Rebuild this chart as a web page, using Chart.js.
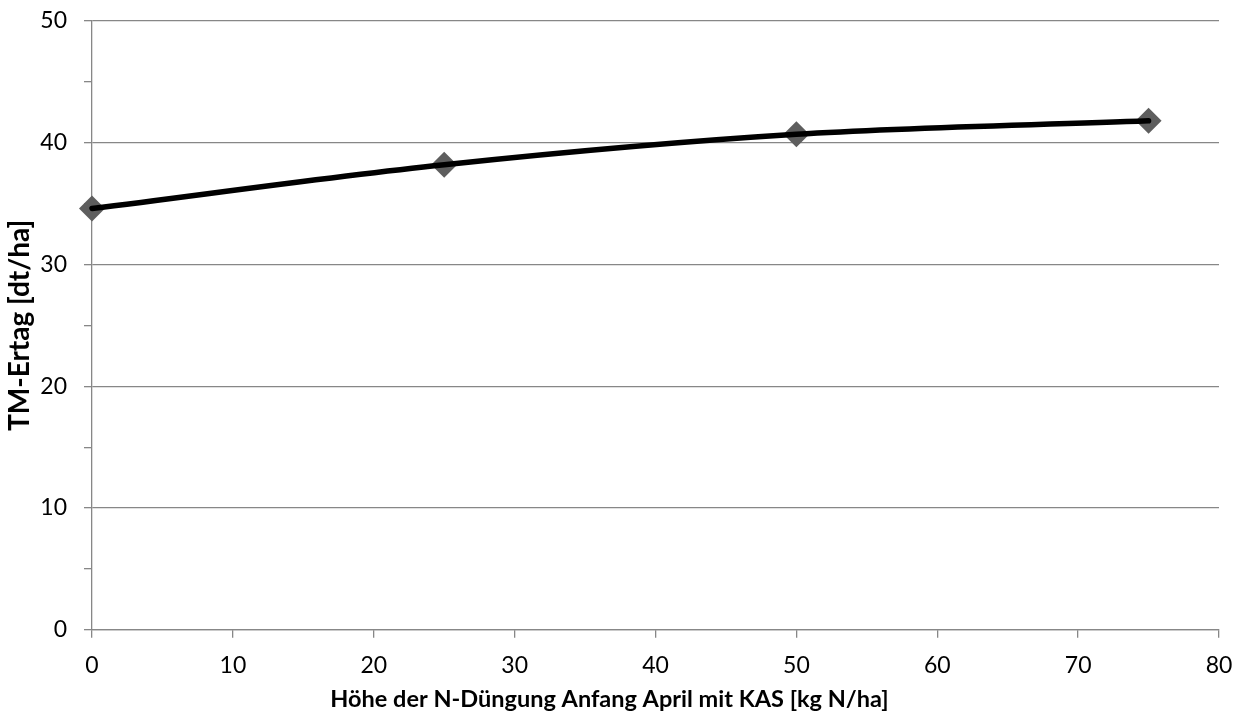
<!DOCTYPE html>
<html>
<head>
<meta charset="utf-8">
<script src="https://cdn.jsdelivr.net/npm/chart.js@4/dist/chart.umd.min.js"></script>
<style>
  html, body { margin: 0; padding: 0; background: #fff; }
  #wrap { width: 1243px; height: 715px; }
</style>
</head>
<body>
<div id="wrap"><canvas id="c" width="1243" height="715"></canvas></div>
<script>
const doses = [0, 25, 50, 75];
const yields = [34.6, 38.2, 40.7, 41.8];
const xTitle = 'Höhe der N-Düngung Anfang April mit KAS [kg N/ha]';
const yTitle = 'TM-Ertag [dt/ha]';

const points = doses.map((d, i) => ({ x: d, y: yields[i] }));
const gridGray = '#878787';
const fam = 'Lato, "Open Sans", sans-serif';

new Chart(document.getElementById('c'), {
  type: 'scatter',
  data: {
    datasets: [
      {
        label: 'Trend',
        data: points,
        showLine: true,
        clip: false,
        borderColor: '#000',
        borderWidth: 5.5,
        borderCapStyle: 'round',
        pointRadius: 0,
        cubicInterpolationMode: 'monotone',
        tension: 0.4
      },
      {
        label: yTitle,
        data: points,
        showLine: false,
        clip: false,
        pointStyle: 'rectRot',
        pointRadius: 13,
        backgroundColor: '#5e5e5e',
        borderColor: '#5e5e5e',
        borderWidth: 0
      }
    ]
  },
  options: {
    responsive: false,
    animation: false,
    devicePixelRatio: 1,
    layout: { padding: { left: 0, right: 24, top: 21, bottom: 0 } },
    plugins: {
      legend: { display: false },
      tooltip: { enabled: false },
      title: {
        display: true,
        position: 'bottom',
        text: xTitle,
        color: '#000',
        font: { family: fam, size: 23.5, weight: 'bold', lineHeight: 1.2 },
        padding: { top: 0, bottom: 1 }
      }
    },
    scales: {
      x: {
        type: 'linear',
        min: 0, max: 80,
        ticks: { stepSize: 10, color: '#000', font: { family: fam, size: 23, lineHeight: 1.2 }, padding: 14, maxRotation: 0 },
        grid: { drawOnChartArea: false, tickLength: 8, color: gridGray, lineWidth: 1.3 },
        border: { color: gridGray, width: 1.3 },
        afterFit: (s) => { s.height = 56; s.paddingLeft = 0; s.paddingRight = 0; }
      },
      y: {
        min: 0, max: 50,
        ticks: {
          stepSize: 5,
          color: '#000',
          font: { family: fam, size: 23, lineHeight: 1.2 },
          padding: 17,
          callback: (v) => (v % 10 === 0 ? v : '')
        },
        grid: {
          tickLength: 8,
          lineWidth: 1.3,
          color: (ctx) => (ctx.tick && ctx.tick.value % 10 === 0 ? gridGray : 'rgba(0,0,0,0)'),
          tickColor: gridGray
        },
        border: { color: gridGray, width: 1.3 },
        title: { display: true, text: yTitle, color: '#000', font: { family: fam, size: 28, weight: 'bold', lineHeight: 1.2 }, padding: { top: 3, bottom: 0 } },
        afterFit: (s) => { s.width = 92; s.paddingTop = 0; s.paddingBottom = 0; }
      }
    }
  }
});
</script>
</body>
</html>
